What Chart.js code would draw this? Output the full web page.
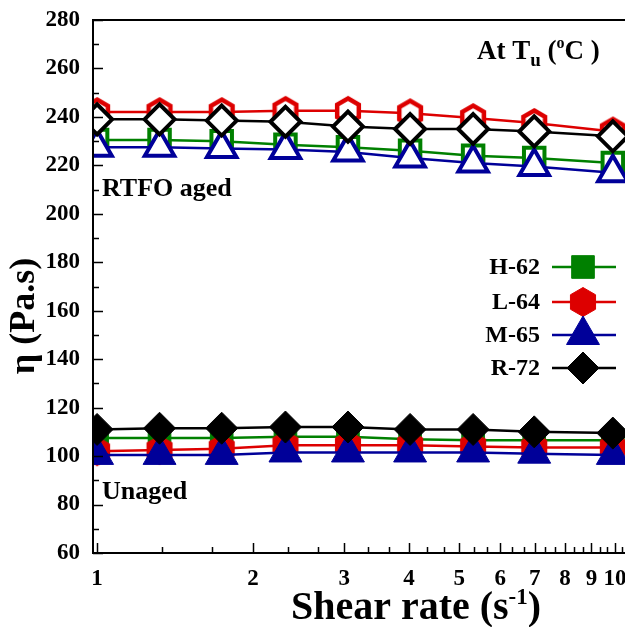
<!DOCTYPE html>
<html>
<head>
<meta charset="utf-8">
<script src="https://cdn.jsdelivr.net/npm/chart.js@4/dist/chart.umd.min.js"></script>
<style>
  body { margin: 0; background: #fff; overflow: hidden; }
</style>
</head>
<body>
<canvas id="myChart" width="625" height="627"></canvas>
<script>
// shear rate (1/s)
const shear = [1, 1.32, 1.74, 2.31, 3.05, 4.02, 5.32, 6.98, 9.9];

// RTFO aged viscosity (Pa.s)
const h62_aged = [230.5, 230.5, 230, 228.5, 227.5, 226, 224, 223, 221];
const l64_aged = [242, 242, 242, 242.5, 242.5, 241.5, 239.5, 237.5, 234];
const m65_aged = [227.5, 227.5, 227, 226.5, 225.5, 223, 221, 219.5, 217];
const r72_aged = [239, 239, 238.5, 238, 236, 235, 235, 234, 232];

// unaged viscosity (Pa.s)
const h62_unaged = [107.5, 107.5, 107.5, 108, 108, 107, 106.5, 106.5, 106.5];
const l64_unaged = [102, 102.5, 103, 104.5, 104.5, 104.5, 104, 103.5, 103.5];
const m65_unaged = [100.5, 100.5, 100.5, 101.5, 101.5, 101.5, 101.5, 101, 100.5];
const r72_unaged = [111, 111.5, 111.5, 112, 112, 111, 111, 110, 109.5];

const binders = ["H-62", "L-64", "M-65", "R-72"];
const xTickLabels = [1, 2, 3, 4, 5, 6, 7, 8, 9, 10];

const FONT = "'Liberation Serif', 'Times New Roman', serif";
const GREEN = "#008000", RED = "#dd0000", BLUE = "#000099", BLACK = "#000000";

function hexagono(R, fill, stroke, lw) {
  const s = Math.ceil(2 * R + lw + 2);
  const c = document.createElement("canvas");
  c.width = s; c.height = s;
  const g = c.getContext("2d");
  g.translate(s / 2, s / 2);
  g.beginPath();
  for (let i = 0; i < 6; i++) {
    const a = (-90 + 60 * i) * Math.PI / 180;
    const px = R * Math.cos(a), py = R * Math.sin(a);
    if (i == 0) g.moveTo(px, py); else g.lineTo(px, py);
  }
  g.closePath();
  g.fillStyle = fill;
  g.fill();
  if (lw > 0) {
    g.lineWidth = lw;
    g.strokeStyle = stroke;
    g.lineJoin = "miter";
    g.stroke();
  }
  return c;
}

const hexFilled = hexagono(14.5, RED, RED, 1);
const hexOpen = hexagono(12.5, "#fff", RED, 4.5);

function puntos(valores) {
  return shear.map((x, i) => ({ x: x, y: valores[i] }));
}

function serie(label, valores, color, estilo, radio, abierto, enLeyenda) {
  return {
    label: label,
    data: puntos(valores),
    borderColor: color,
    backgroundColor: color,
    borderWidth: 2.5,
    pointStyle: estilo,
    pointRadius: radio,
    pointBorderWidth: abierto ? 4 : 1,
    pointBackgroundColor: abierto ? "#fff" : color,
    pointBorderColor: color,
    tension: 0,
    clip: { left: 0, right: false, top: false, bottom: false },
    enLeyenda: enLeyenda,
  };
}

// first dataset is drawn on top
const datasets = [
  serie("R-72", r72_unaged, BLACK, "rectRot", 16, false, true),
  serie("M-65", m65_unaged, BLUE, "triangle", 19, false, true),
  serie("L-64", l64_unaged, RED, hexFilled, 14, false, true),
  serie("H-62", h62_unaged, GREEN, "rect", 16, false, true),
  serie("R-72 aged", r72_aged, BLACK, "rectRot", 15, true, false),
  serie("M-65 aged", m65_aged, BLUE, "triangle", 17, true, false),
  serie("L-64 aged", l64_aged, RED, hexOpen, 14, true, false),
  serie("H-62 aged", h62_aged, GREEN, "rect", 14.5, true, false),
];

function texto(ctx, partes, x, y, align) {
  // partes: [texto, tamaño, desplazamiento vertical]
  let ancho = 0;
  partes.forEach(p => {
    ctx.font = "bold " + p[1] + "px " + FONT;
    ancho += ctx.measureText(p[0]).width;
  });
  let cx = align == "center" ? x - ancho / 2 : align == "right" ? x - ancho : x;
  ctx.textAlign = "left";
  ctx.textBaseline = "alphabetic";
  partes.forEach(p => {
    ctx.font = "bold " + p[1] + "px " + FONT;
    ctx.fillText(p[0], cx, y + (p[2] || 0));
    cx += ctx.measureText(p[0]).width;
  });
}

const marco = {
  id: "marco",
  afterDraw(chart) {
    const ctx = chart.ctx;
    const a = chart.chartArea;
    const x = chart.scales.x, y = chart.scales.y;
    ctx.save();
    ctx.strokeStyle = "#000";
    ctx.lineWidth = 2;
    ctx.beginPath();
    ctx.moveTo(chart.width, a.top);
    ctx.lineTo(a.left, a.top);
    ctx.lineTo(a.left, a.bottom);
    ctx.lineTo(chart.width, a.bottom);
    ctx.stroke();

    ctx.lineWidth = 1.5;
    ctx.beginPath();
    for (let v = 60; v <= 280; v += 10) {
      const py = Math.round(y.getPixelForValue(v)) + 0.5;
      const len = v % 20 == 0 ? 10 : 6;
      ctx.moveTo(a.left, py);
      ctx.lineTo(a.left + len, py);
    }
    for (let k = 1; k <= 10; k++) {
      [0, 1, 2].forEach(j => {
        const v = k + j / 3;
        if (v > x.max) return;
        const px = Math.round(x.getPixelForValue(v)) + 0.5;
        const len = j == 0 ? 10 : 6;
        ctx.moveTo(px, a.bottom);
        ctx.lineTo(px, a.bottom - len);
      });
    }
    ctx.stroke();

    ctx.fillStyle = "#000";
    texto(ctx, [["RTFO aged", 26]], 102, 196, "left");
    texto(ctx, [["Unaged", 26]], 102, 499, "left");
    texto(ctx, [["At T", 27], ["u", 19, 7], [" (", 27], ["o", 16, -11], ["C )", 27]], 477, 59, "left");
    texto(ctx, [["Shear rate (s", 40], ["-1", 23, -15], [")", 40]], 416, 619, "center");

    ctx.save();
    ctx.translate(34, 316);
    ctx.rotate(-Math.PI / 2);
    texto(ctx, [["\u03B7 (Pa.s)", 36]], 0, 0, "center");
    ctx.restore();

    // leyenda
    const filas = [267, 302, 335, 368];
    const orden = binders.map(n => chart.data.datasets.find(d => d.label == n && d.enLeyenda));
    orden.forEach((d, i) => {
      const py = filas[i];
      ctx.fillStyle = "#000";
      ctx.font = "bold 24px " + FONT;
      ctx.textAlign = "right";
      ctx.textBaseline = "middle";
      ctx.fillText(d.label, 540, py + 1);
      ctx.strokeStyle = d.borderColor;
      ctx.lineWidth = 2.5;
      ctx.beginPath();
      ctx.moveTo(552, py);
      ctx.lineTo(616, py);
      ctx.stroke();
      ctx.fillStyle = d.pointBackgroundColor;
      ctx.strokeStyle = d.pointBorderColor;
      ctx.lineWidth = d.pointBorderWidth;
      Chart.helpers.drawPoint(ctx, {
        pointStyle: d.pointStyle,
        radius: d.pointRadius,
        borderWidth: d.pointBorderWidth,
        rotation: 0,
      }, 583, py);
    });
    ctx.restore();
  },
};

const my_chart = document.getElementById("myChart");

new Chart(my_chart, {
  type: "line",
  data: { datasets: datasets },
  plugins: [marco],
  options: {
    responsive: false,
    animation: false,
    layout: { autoPadding: false, padding: { top: 20, left: 0, right: 0, bottom: 0 } },
    plugins: {
      legend: { display: false },
      tooltip: { enabled: false },
    },
    scales: {
      x: {
        type: "logarithmic",
        min: 0.982,
        max: 10.45,
        grid: { display: false },
        border: { display: false },
        afterBuildTicks: (s) => {
          s.ticks = xTickLabels.map(v => ({ value: v }));
        },
        afterFit: (s) => {
          s.height = 74;
          s.paddingLeft = 0;
          s.paddingRight = 0;
        },
        ticks: {
          autoSkip: false,
          maxRotation: 0,
          padding: 4,
          color: "#000",
          font: { family: FONT, size: 23, weight: "bold" },
          callback: (v) => String(v),
        },
      },
      y: {
        min: 60,
        max: 280,
        grid: { display: false },
        border: { display: false },
        afterFit: (s) => {
          s.width = 93;
          s.paddingTop = 0;
          s.paddingBottom = 0;
        },
        ticks: {
          stepSize: 20,
          padding: 5,
          color: "#000",
          font: { family: FONT, size: 23, weight: "bold" },
        },
      },
    },
  },
});
</script>
</body>
</html>
